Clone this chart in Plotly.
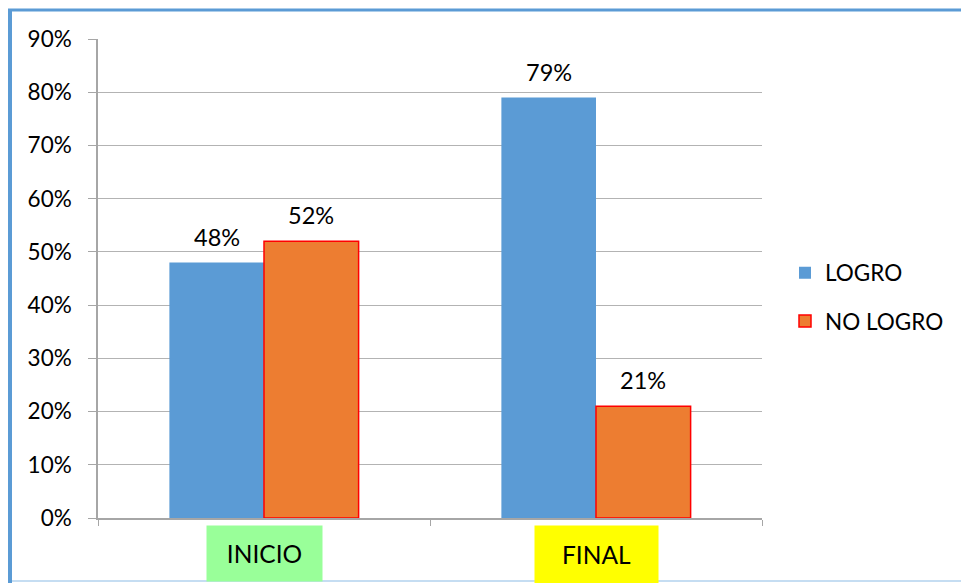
import plotly.graph_objects as go

categories = ["INICIO", "FINAL"]
logro = [0.48, 0.79]
no_logro = [0.52, 0.21]
label_colors = ["#99FF99", "#FFFF00"]

FONT = "Lato"
W, H = 961, 583
L, R, T, B = 98, 199, 39, 65
pw, ph = W - L - R, H - T - B
BARGAP = 0.43

def px_x(p):
    return (p - L) / pw

def px_y(p):
    return (H - B - p) / ph

fig = go.Figure()
fig.add_trace(go.Bar(
    x=categories, y=logro, name="LOGRO", legendgroup="a",
    marker=dict(color="#5B9BD5", line=dict(width=0)),
))
fig.add_trace(go.Bar(
    x=categories, y=no_logro, name="NO LOGRO", legendgroup="b",
    marker=dict(color="#ED7D31", line=dict(width=1.5, color="#FF0000")),
))

annotations = []
# value labels above bars
bw = (1 - BARGAP) / 2
for si, series in enumerate([logro, no_logro]):
    off = (si - 0.5) * bw
    for ci, v in enumerate(series):
        annotations.append(dict(
            x=ci + off, xref="x", y=v, yref="y", yanchor="bottom", xanchor="center",
            yshift=10, text=f"{v:.0%}", showarrow=False,
            font=dict(family=FONT, size=23.5, color="#000"),
        ))

widths = [115, 123]
heights = [55, 57]
for c, col, w, h in zip(categories, label_colors, widths, heights):
    annotations.append(dict(
        x=c, xref="x", y=px_y(525), yref="paper", yanchor="top", xanchor="center",
        text=c, showarrow=False, bgcolor=col, width=w, height=h, borderpad=0,
        font=dict(family=FONT, size=24.5, color="#000"), valign="middle",
    ))

shapes = [
    dict(type="line", xref="paper", yref="paper", x0=px_x(10), x1=px_x(10),
         y0=px_y(9), y1=px_y(583), line=dict(color="#5B9BD5", width=4)),
    dict(type="line", xref="paper", yref="paper", x0=px_x(8), x1=px_x(961),
         y0=px_y(10), y1=px_y(10), line=dict(color="#5B9BD5", width=3)),
    dict(type="line", xref="paper", yref="paper", x0=px_x(12), x1=px_x(961),
         y0=px_y(581), y1=px_y(581), line=dict(color="#C5DDF2", width=2)),
]

fig.update_layout(
    width=W, height=H,
    margin=dict(l=L, r=R, t=T, b=B, autoexpand=False),
    paper_bgcolor="white", plot_bgcolor="white",
    barmode="group", bargap=BARGAP, bargroupgap=0,
    font=dict(family=FONT, size=22, color="#000"),
    showlegend=True,
    legend=dict(x=px_x(785), xanchor="left", y=px_y(297), yanchor="middle",
                font=dict(family=FONT, size=22.5, color="#000"),
                tracegroupgap=16, itemwidth=30, bgcolor="rgba(0,0,0,0)"),
    annotations=annotations,
    shapes=shapes,
    xaxis=dict(type="category", showticklabels=False, tickson="boundaries", ticks="outside",
               ticklen=6, tickcolor="#A6A6A6", showline=True, linecolor="#A6A6A6",
               linewidth=1.5, showgrid=False, range=[-0.5, 1.5]),
    yaxis=dict(range=[0, 0.9], dtick=0.1, tickformat=".0%", ticks="outside",
               ticklen=8, tickcolor="#A6A6A6", showline=True, linecolor="#A6A6A6",
               linewidth=1.5, gridcolor="#B3B3B3", gridwidth=1.2, zeroline=False,
               ticklabelstandoff=12,
               tickfont=dict(family=FONT, size=22.5, color="#000")),
)

fig.write_html("out.html")
